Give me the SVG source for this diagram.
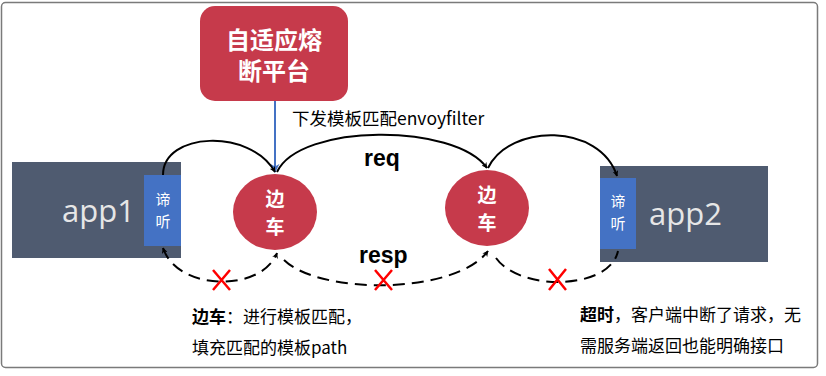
<svg xmlns="http://www.w3.org/2000/svg" width="826" height="376" viewBox="0 0 826 376">
<style>
.cjk{font-family:"Liberation Sans","Noto Sans CJK SC",sans-serif}
.nt{font-family:"Noto Sans CJK SC","Noto Sans",sans-serif}
.wt{fill:#fff;font-weight:bold;text-anchor:middle}
.lst{fill:#fff;font-size:15px;text-anchor:middle}
.app{fill:#4f5b70}
.lbox{fill:#4472c4}
.apptxt{fill:#e6e6e6;font-family:"Open Sans","Noto Sans",sans-serif;font-size:31px}
.side{fill:#c63a4b}
.solid{fill:none;stroke:#000;stroke-width:2}
.dash{fill:none;stroke:#000;stroke-width:2;stroke-dasharray:12 7}
.x{stroke:#ff0000;stroke-width:2.5;fill:none}
.lbl{fill:#000;font-size:17px}
</style>
<defs>
<marker id="ah" viewBox="0 0 10 10" refX="9" refY="5" markerWidth="6" markerHeight="6" orient="auto-start-reverse" markerUnits="userSpaceOnUse">
<path d="M0,0 L10,5 L0,10 L3,5 Z" fill="#000"/>
</marker>
<marker id="ahb" viewBox="0 0 10 10" refX="9" refY="5" markerWidth="9" markerHeight="9" orient="auto" markerUnits="userSpaceOnUse">
<path d="M0,0 L10,5 L0,10 L3,5 Z" fill="#4472c4"/>
</marker>
</defs>
<rect x="1.5" y="2.5" width="816" height="365" rx="4" fill="#fff" stroke="#7a7a7a" stroke-width="1.5"/>

<g id="platform">
<rect x="200" y="6" width="148" height="95" rx="15" class="side"/>
<text class="cjk wt" x="274" y="49" font-size="24">自适应熔</text>
<text class="cjk wt" x="274" y="80" font-size="24">断平台</text>
</g>

<g id="app1">
<rect x="12" y="162" width="169" height="96" class="app"/>
<text class="apptxt" x="62" y="222">app1</text>
<rect x="144" y="175" width="37" height="71" class="lbox"/>
<text class="cjk lst" x="163" y="205">谛</text>
<text class="cjk lst" x="163" y="227">听</text>
</g>

<g id="app2">
<rect x="600" y="166" width="168" height="96" class="app"/>
<text class="apptxt" x="649" y="225">app2</text>
<rect x="600" y="178" width="36" height="71" class="lbox"/>
<text class="cjk lst" x="618" y="207">谛</text>
<text class="cjk lst" x="618" y="229">听</text>
</g>

<g id="sidecar1">
<ellipse cx="275" cy="212" rx="42" ry="38" class="side"/>
<text class="cjk wt" x="275" y="206" font-size="19">边</text>
<text class="cjk wt" x="275" y="234" font-size="19">车</text>
</g>

<g id="sidecar2">
<ellipse cx="487" cy="208" rx="42" ry="38" class="side"/>
<text class="cjk wt" x="487" y="202" font-size="19">边</text>
<text class="cjk wt" x="487" y="230" font-size="19">车</text>
</g>

<g id="connectors">
<line x1="275" y1="101" x2="275" y2="172" stroke="#4472c4" stroke-width="2" marker-end="url(#ahb)"/>
<path class="solid" d="M163,175 C163,132 250,128 275,172" marker-end="url(#ah)"/>
<path class="solid" d="M277,172 C300,123 455,123 487,168" marker-end="url(#ah)"/>
<path class="solid" d="M488,168 C510,123 600,123 617,176" marker-end="url(#ah)"/>
<path class="dash" d="M163,248 C178,292 262,292 277,253" marker-start="url(#ah)" marker-end="url(#ah)"/>
<path class="dash" d="M284,260 C320,295 455,295 488,251" marker-end="url(#ah)"/>
<path class="dash" d="M496,258 C520,292 610,290 618,251"/>
<path class="x" d="M213,270 L230,290 M230,270 L213,290"/>
<path class="x" d="M375,270 L392,290 M392,270 L375,290"/>
<path class="x" d="M549,269 L566,290 M566,269 L549,290"/>
</g>

<g id="labels">
<text class="nt" x="292" y="125" font-size="17.5" fill="#000">下发模板匹配envoyfilter</text>
<text x="364" y="166" font-family="Liberation Sans,sans-serif" font-weight="bold" font-size="23" fill="#000">req</text>
<text x="359" y="263" font-family="Liberation Sans,sans-serif" font-weight="bold" font-size="23" fill="#000">resp</text>
<text class="nt lbl" x="192" y="323"><tspan font-weight="bold">边车</tspan>：进行模板匹配，</text>
<text class="nt lbl" x="192" y="354">填充匹配的模板path</text>
<text class="nt lbl" x="580" y="321"><tspan font-weight="bold">超时</tspan>，客户端中断了请求，无</text>
<text class="nt lbl" x="580" y="352">需服务端返回也能明确接口</text>
</g>
</svg>
